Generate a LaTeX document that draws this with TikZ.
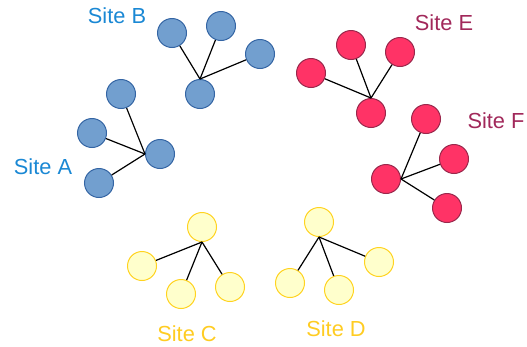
\documentclass[tikz,border=0pt]{standalone}
\usepackage{fontspec}
\setmainfont{Liberation Sans}
\usetikzlibrary{positioning}

\definecolor{blueFill}{HTML}{729FCF}
\definecolor{blueLine}{HTML}{3465A4}
\definecolor{blueText}{HTML}{1A88D4}
\definecolor{redFill}{HTML}{FF3366}
\definecolor{redLine}{HTML}{99284C}
\definecolor{redText}{HTML}{A1285A}
\definecolor{yellowFill}{HTML}{FFFFCC}
\definecolor{yellowLine}{HTML}{FFD320}
\definecolor{yellowText}{HTML}{FFCC22}

\begin{document}
\begin{tikzpicture}[
        x=1pt, y=-1pt,
        host/.style={circle, line width=1pt, minimum size=29pt, inner sep=0pt},
        bluehost/.style={host, draw=blueLine, fill=blueFill},
        redhost/.style={host, draw=redLine, fill=redFill},
        yellowhost/.style={host, draw=yellowLine, fill=yellowFill},
        link/.style={draw=black, line width=1.2pt},
        sitelabel/.style={font=\fontsize{21.8}{24}\selectfont, inner sep=0pt}
    ]
        \useasboundingbox (0,0) rectangle (527,346);

        % Site A
        \node[bluehost] (hubA) at (160,154) {};
        \node[bluehost] (a1) at (121,94) {};
        \node[bluehost] (a2) at (92,133) {};
        \node[bluehost] (a3) at (99,183) {};
        \node[sitelabel, text=blueText] (labelA) at (43,167) {Site A};

        % Site B
        \node[bluehost] (hubB) at (200,94) {};
        \node[bluehost] (b1) at (172,33) {};
        \node[bluehost] (b2) at (221,26) {};
        \node[bluehost] (b3) at (260,54) {};
        \node[sitelabel, text=blueText] (labelB) at (117,16) {Site B};

        % Site C
        \node[yellowhost] (hubC) at (202,227) {};
        \node[yellowhost] (c1) at (142,266) {};
        \node[yellowhost] (c2) at (181,294) {};
        \node[yellowhost] (c3) at (230,287) {};
        \node[sitelabel, text=yellowText] (labelC) at (187,334) {Site C};

        % Site D
        \node[yellowhost] (hubD) at (319,222) {};
        \node[yellowhost] (d1) at (290,283) {};
        \node[yellowhost] (d2) at (339,290) {};
        \node[yellowhost] (d3) at (379,262) {};
        \node[sitelabel, text=yellowText] (labelD) at (336,329) {Site D};

        % Site E
        \node[redhost] (hubE) at (371,113) {};
        \node[redhost] (e1) at (311,73) {};
        \node[redhost] (e2) at (351,45) {};
        \node[redhost] (e3) at (400,52) {};
        \node[sitelabel, text=redText] (labelE) at (444,23) {Site E};

        % Site F
        \node[redhost] (hubF) at (386,179) {};
        \node[redhost] (f1) at (426,119) {};
        \node[redhost] (f2) at (454,159) {};
        \node[redhost] (f3) at (447,208) {};
        \node[sitelabel, text=redText] (labelF) at (496,121) {Site F};

        % links to each hub
        \foreach \leaf in {a1,a2,a3} \draw[link] (hubA.west) -- (\leaf);
        \foreach \leaf in {b1,b2,b3} \draw[link] (hubB.north) -- (\leaf);
        \foreach \leaf in {c1,c2,c3} \draw[link] (hubC.south) -- (\leaf);
        \foreach \leaf in {d1,d2,d3} \draw[link] (hubD.south) -- (\leaf);
        \foreach \leaf in {e1,e2,e3} \draw[link] (hubE.north) -- (\leaf);
        \foreach \leaf in {f1,f2,f3} \draw[link] (hubF.east) -- (\leaf);
    \end{tikzpicture}
\end{document}
